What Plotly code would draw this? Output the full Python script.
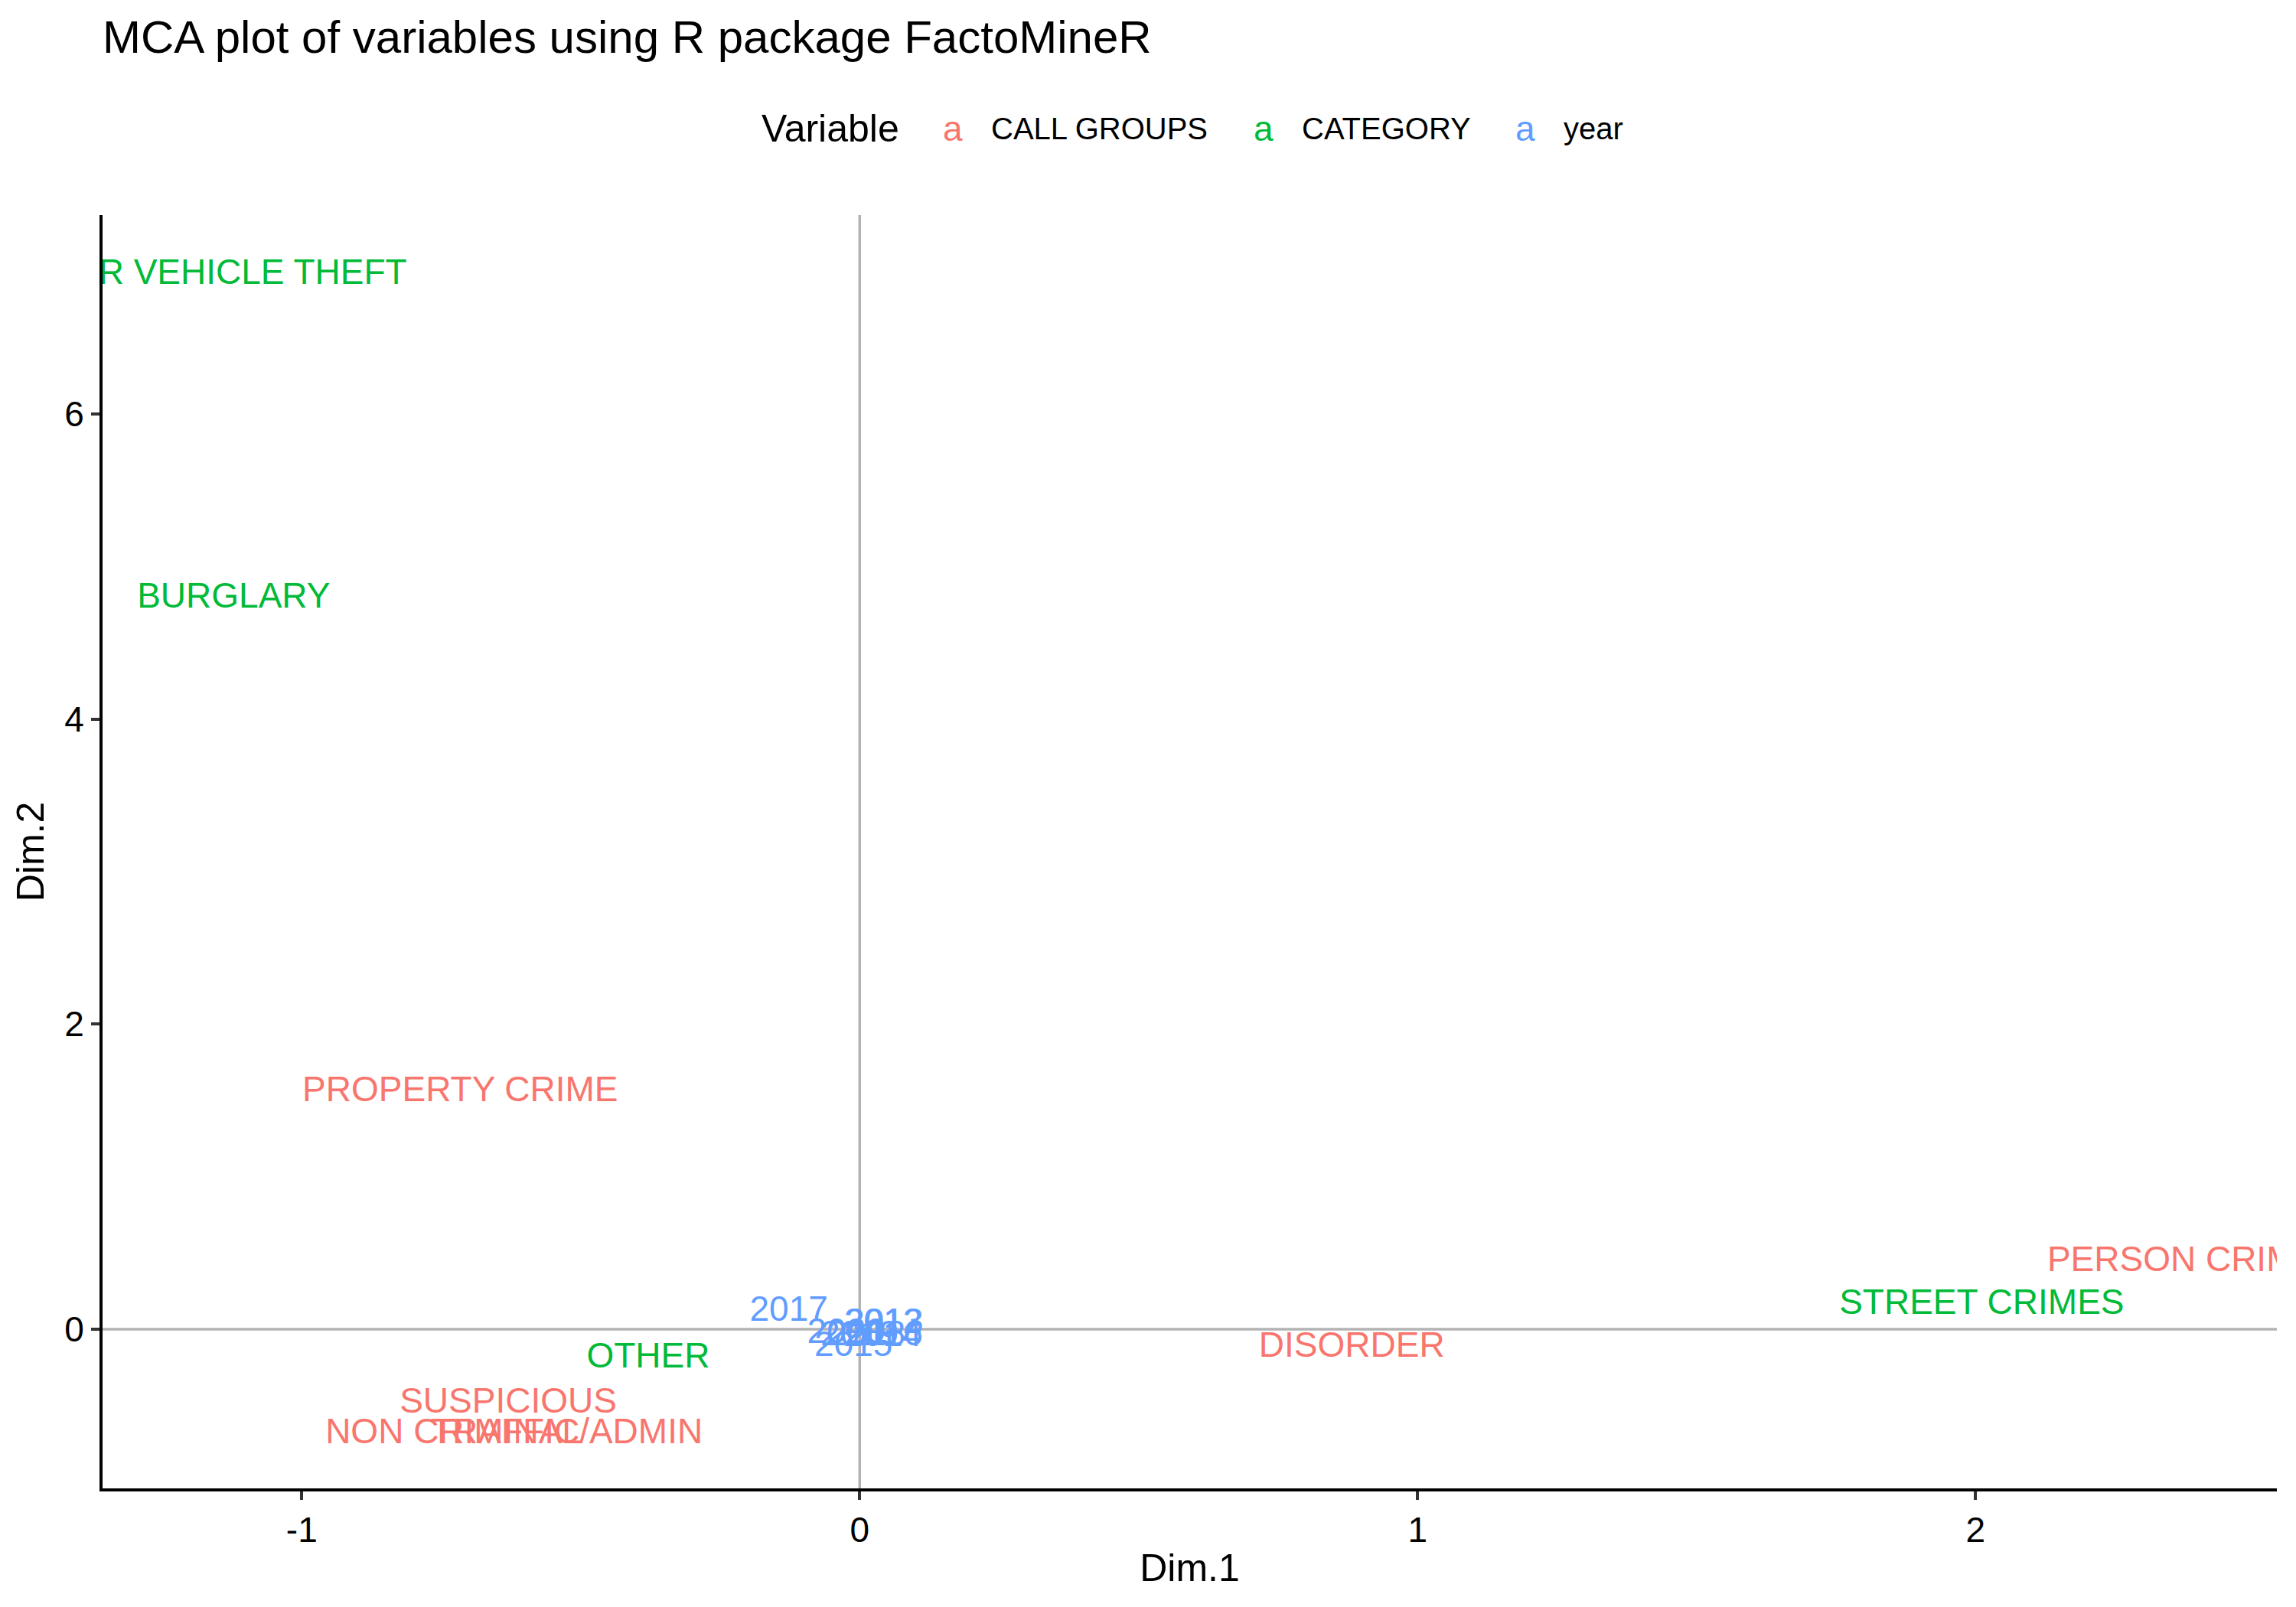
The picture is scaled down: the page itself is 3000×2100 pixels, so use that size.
import plotly.graph_objects as go

# coordonnées des modalités
call_labels = ["PROPERTY CRIME", "SUSPICIOUS", "NON CRIMINAL", "TRAFFIC/ADMIN", "DISORDER", "PERSON CRIME"]
call_dim1 = [-0.716, -0.63, -0.728, -0.525, 0.882, 2.372]
call_dim2 = [1.555, -0.49, -0.692, -0.692, -0.125, 0.44]

cat_labels = ["MOTOR VEHICLE THEFT", "BURGLARY", "OTHER", "STREET CRIMES"]
cat_dim1 = [-1.182, -1.122, -0.379, 2.011]
cat_dim2 = [6.91, 4.79, -0.192, 0.16]

year_labels = ["2017", "2012", "2013", "2020", "2019", "2014", "2016", "2018", "2015"]
year_dim1 = [-0.127, 0.042, 0.044, -0.024, 0.0, 0.041, 0.043, 0.012, -0.011]
year_dim2 = [0.115, 0.032, 0.03, -0.035, -0.05, -0.052, -0.05, -0.048, -0.119]

x_ticks = [-1, 0, 1, 2]
x_ticktext = ["-1", "0", "1", "2"]
y_ticks = [0, 2, 4, 6]
y_ticktext = ["0", "2", "4", "6"]

font = "Liberation Sans"

# la page html a une marge de 8px, on compense
W, H = 2992, 2092
L, R, T, B = 126, 25, 273, 155

fig = go.Figure()

groups = [
    ("CALL GROUPS", call_labels, call_dim1, call_dim2, "#F8766D"),
    ("CATEGORY", cat_labels, cat_dim1, cat_dim2, "#00BA38"),
    ("year", year_labels, year_dim1, year_dim2, "#619CFF"),
]
for name, labels, d1, d2, col in groups:
    fig.add_trace(go.Scatter(
        x=d1, y=d2, text=labels, mode="text", name=name,
        textposition="middle center",
        textfont=dict(family=font, size=46, color=col),
        cliponaxis=True, showlegend=False))

# lignes de référence à zéro
fig.add_hline(y=0, line=dict(color="#b3b3b3", width=3.5), layer="below")
fig.add_vline(x=0, line=dict(color="#b3b3b3", width=3.5), layer="below")


# légende façon ggplot (texte "a" coloré)
def px_to_paper(px):
    return (px - L) / (W - L - R)


leg_y = 1 + (T - 160) / (H - T - B)
legend_items = [
    ("Variable", 985, "black", 50),
    ("a", 1222, "#F8766D", 46),
    ("CALL GROUPS", 1285, "black", 40),
    ("a", 1628, "#00BA38", 46),
    ("CATEGORY", 1691, "black", 40),
    ("a", 1970, "#619CFF", 46),
    ("year", 2033, "black", 40),
]
for txt, px, col, sz in legend_items:
    fig.add_annotation(text=txt, x=px_to_paper(px), y=leg_y, xref="paper", yref="paper",
                       xanchor="left", yanchor="middle", showarrow=False,
                       font=dict(family=font, size=sz, color=col))

fig.update_layout(
    width=W, height=H,
    paper_bgcolor="white", plot_bgcolor="white",
    margin=dict(l=L, r=R, t=T, b=B),
    font=dict(family=font, color="black"),
    showlegend=False,
    title=dict(text="MCA plot of variables using R package FactoMineR",
               x=0, xref="paper", xanchor="left",
               y=1 - 40 / H, yref="container", yanchor="middle",
               font=dict(family=font, size=60, color="black")),
    xaxis=dict(range=[-1.357, 2.540], tickvals=x_ticks, ticktext=x_ticktext,
               showgrid=False, zeroline=False, showline=True, linecolor="black", linewidth=4,
               ticks="outside", ticklen=11, tickwidth=4, tickcolor="#333333",
               tickfont=dict(size=46, color="black"),
               title=dict(text="Dim.1", font=dict(size=50), standoff=8)),
    yaxis=dict(range=[-1.044, 7.305], tickvals=y_ticks, ticktext=y_ticktext,
               showgrid=False, zeroline=False, showline=True, linecolor="black", linewidth=4,
               ticks="outside", ticklen=11, tickwidth=4, tickcolor="#333333",
               tickfont=dict(size=46, color="black"),
               title=dict(text="Dim.2", font=dict(size=50), standoff=12)),
)

fig.write_html("out.html")
